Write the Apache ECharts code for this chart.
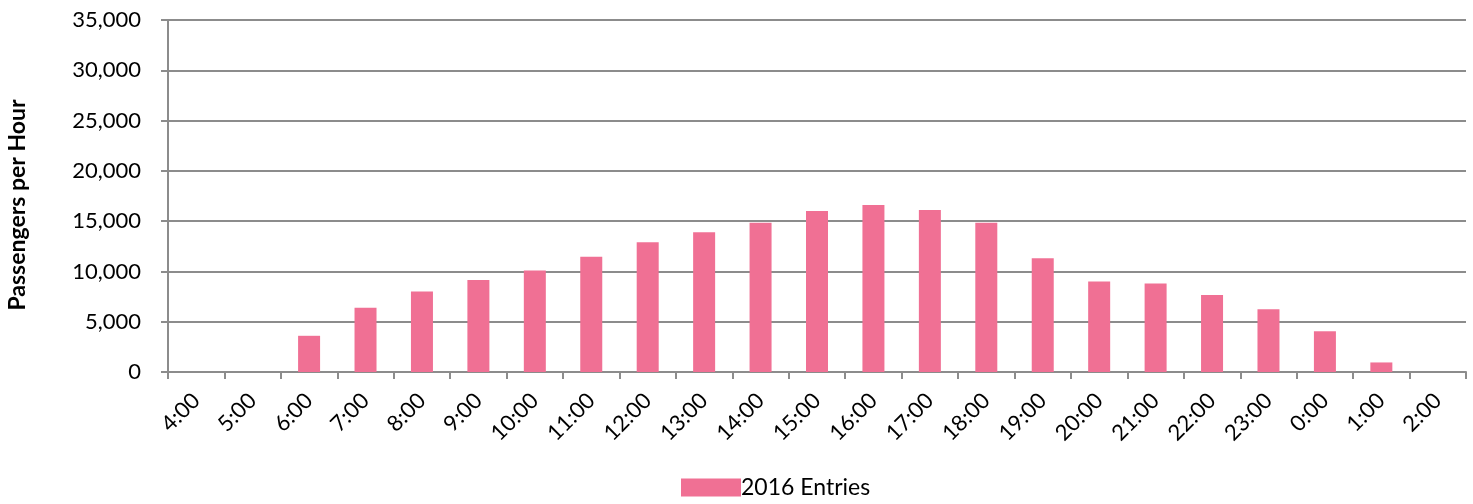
<!DOCTYPE html>
<html>
<head>
<meta charset="utf-8">
<script src="https://cdn.jsdelivr.net/npm/echarts@6/dist/echarts.min.js"></script>
<style>
    html, body { margin: 0; padding: 0; background: #fff; }
    #chart { width: 1473px; height: 504px; }
</style>
</head>
<body>
<div id="chart"></div>
<script>
'use strict';

var hours = ['4:00', '5:00', '6:00', '7:00', '8:00', '9:00', '10:00', '11:00', '12:00',
    '13:00', '14:00', '15:00', '16:00', '17:00', '18:00', '19:00', '20:00', '21:00',
    '22:00', '23:00', '0:00', '1:00', '2:00'];
var entries2016 = [0, 0, 3600, 6400, 8000, 9150, 10100, 11450, 12900,
    13900, 14850, 16000, 16600, 16100, 14850, 11300, 9000, 8800,
    7650, 6250, 4050, 950, 0];

var font = 'Lato, "Open Sans", sans-serif';
var gray = '#8c8c8c';

var my_chart = echarts.init(document.getElementById('chart'));
my_chart.setOption({
    animation: false,
    grid: {
        left: 168,
        right: 7,
        top: 20,
        bottom: 132,
        containLabel: false,
        outerBoundsMode: 'none'
    },
    legend: {
        data: ['2016 Entries'],
        left: 676,
        top: 471,
        itemWidth: 60,
        itemHeight: 18,
        icon: 'rect',
        textStyle: {
            fontFamily: font,
            fontSize: 23,
            lineHeight: 18,
            color: '#000',
            padding: [0, 0, 0, -5]
        }
    },
    xAxis: {
        type: 'category',
        data: hours,
        boundaryGap: true,
        axisLine: { lineStyle: { color: gray, width: 2 } },
        axisTick: { show: true, alignWithLabel: false, length: 7, lineStyle: { color: gray, width: 2 } },
        axisLabel: {
            interval: 0,
            rotate: 45,
            margin: 25,
            color: '#000',
            fontFamily: font,
            fontSize: 22
        },
        splitLine: { show: false }
    },
    yAxis: {
        type: 'value',
        min: 0,
        max: 35000,
        interval: 5000,
        name: 'Passengers per Hour',
        nameLocation: 'middle',
        nameGap: 139,
        nameTextStyle: {
            fontFamily: font,
            fontSize: 23,
            fontWeight: 'bold',
            color: '#000',
            padding: [0, 18, 0, 0]
        },
        axisLine: { show: true, lineStyle: { color: gray, width: 2 } },
        axisTick: { show: true, length: 7, lineStyle: { color: gray, width: 2 } },
        axisLabel: {
            margin: 27,
            color: '#000',
            fontFamily: font,
            fontSize: 22,
            formatter: function (v) {
                return v.toLocaleString('en-US');
            }
        },
        splitLine: { show: true, lineStyle: { color: gray, width: 2 } }
    },
    series: [{
        name: '2016 Entries',
        type: 'bar',
        data: entries2016,
        barWidth: 22,
        itemStyle: { color: '#f07094' }
    }]
});
</script>
</body>
</html>
